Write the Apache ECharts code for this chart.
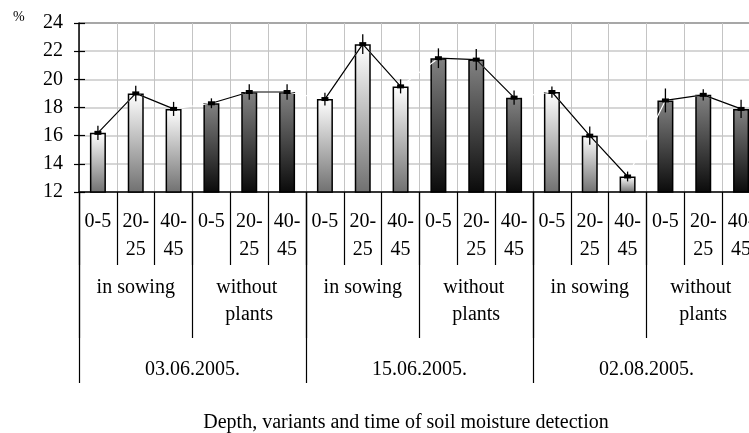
<!DOCTYPE html>
<html>
<head>
<meta charset="utf-8">
<script src="https://cdn.jsdelivr.net/npm/echarts@6/dist/echarts.min.js"></script>
<style>
  html, body { margin: 0; padding: 0; background: #ffffff; }
  #chart { width: 749px; height: 433px; }
</style>
</head>
<body>
<div id="chart"></div>
<script>
// Soil moisture (%) by depth, variant and sampling date
const dates = ['03.06.2005.', '15.06.2005.', '02.08.2005.'];
const variants = ['in sowing', 'without plants'];
const depths = ['0-5', '20-25', '40-45'];
const moisture = [16.2, 19.0, 17.9, 18.3, 19.1, 19.1, 18.6, 22.5, 19.5, 21.5, 21.4, 18.7, 19.1, 16.0, 13.1, 18.5, 18.9, 17.9];
const moistureErr = [0.5, 0.55, 0.5, 0.35, 0.55, 0.55, 0.45, 0.7, 0.5, 0.7, 0.75, 0.5, 0.4, 0.65, 0.35, 0.85, 0.4, 0.65];
const yTicks = { min: 12, max: 24, step: 2 };

const FONT = 'Liberation Serif';
const FS = 20;

// Flattened category levels
const depthCats = [], variantCats = [], dateCats = [];
dates.forEach(d => {
  dateCats.push(d);
  variants.forEach(v => {
    variantCats.push(v);
    depths.forEach(dp => depthCats.push(dp));
  });
});
const idx = depthCats.map((_, i) => String(i));

// Gradient fills: light bars for sown plots, dark bars for bare plots
const gradLight = new echarts.graphic.LinearGradient(0, 0, 0, 1, [
  { offset: 0, color: '#ffffff' }, { offset: 1, color: '#707070' }
]);
const gradDark = new echarts.graphic.LinearGradient(0, 0, 0, 1, [
  { offset: 0, color: '#828282' }, { offset: 1, color: '#0a0a0a' }
]);
const barData = moisture.map((v, i) => ({
  value: v,
  itemStyle: { color: Math.floor(i / 3) % 2 === 0 ? gradLight : gradDark }
}));

// Connector lines: black inside each group of three, white between groups
const groupLines = [];
for (let g = 0; g < moisture.length / 3; g++) {
  groupLines.push({
    type: 'line',
    data: moisture.map((v, i) => (Math.floor(i / 3) === g ? v : null)),
    symbol: 'rect',
    symbolSize: [7, 4],
    itemStyle: { color: '#000' },
    lineStyle: { color: '#000', width: 1.2 },
    z: 4,
    silent: true,
    animation: false
  });
}

const errData = moisture.map((v, i) => [i, v - moistureErr[i], v + moistureErr[i]]);

const chart = echarts.init(document.getElementById('chart'), null, { renderer: 'canvas' });
chart.setOption({
  backgroundColor: '#ffffff',
  animation: false,
  grid: { left: 79, top: 23, right: -11, height: 169, containLabel: false, outerBoundsMode: 'none' },
  graphic: [
    { type: 'text', left: 13, top: 10, style: { text: '%', font: '14px ' + FONT, fill: '#000' } },
    {
      type: 'text', x: 406, y: 423,
      style: {
        text: 'Depth, variants and time of soil moisture detection',
        font: FS + 'px ' + FONT, fill: '#000', align: 'center', verticalAlign: 'middle'
      }
    }
  ],
  xAxis: [
    {
      type: 'category', position: 'bottom', data: idx, boundaryGap: true,
      axisLine: { show: true, lineStyle: { color: '#000', width: 1.5 } },
      axisTick: { show: true, interval: 0, length: 73, lineStyle: { color: '#000', width: 1.2 } },
      axisLabel: {
        interval: 0, margin: 16, fontFamily: FONT, fontSize: FS, color: '#000', lineHeight: 28,
        formatter: (v, i) => {
          const s = depthCats[i];
          return s.length > 3 ? s.replace('-', '-\n') : s;
        }
      },
      splitLine: { show: true, interval: 0, lineStyle: { color: '#c4c4c4', width: 1 } }
    },
    {
      type: 'category', position: 'bottom', data: variantCats.map((_, i) => String(i)), boundaryGap: true,
      axisLine: { show: false },
      axisTick: { show: true, interval: 0, length: 146, lineStyle: { color: '#000', width: 1.2 } },
      axisLabel: {
        interval: 0, margin: 82, fontFamily: FONT, fontSize: FS, color: '#000', lineHeight: 27,
        width: 94, overflow: 'break',
        formatter: (v, i) => variantCats[i]
      },
      splitLine: { show: false }
    },
    {
      type: 'category', position: 'bottom', data: dateCats.map((_, i) => String(i)), boundaryGap: true,
      axisLine: { show: false },
      axisTick: { show: true, interval: 0, length: 191, lineStyle: { color: '#000', width: 1.2 } },
      axisLabel: {
        interval: 0, margin: 164, fontFamily: FONT, fontSize: FS, color: '#000', lineHeight: 28,
        formatter: (v, i) => dateCats[i]
      },
      splitLine: { show: false }
    }
  ],
  yAxis: [
    {
      type: 'value', position: 'left', min: yTicks.min, max: yTicks.max, interval: yTicks.step,
      axisLine: { show: true, lineStyle: { color: '#000', width: 1.5 } },
      axisTick: { show: true, length: 5, lineStyle: { color: '#000', width: 1.2 } },
      axisLabel: { margin: 16, fontFamily: FONT, fontSize: FS, color: '#000' },
      splitLine: {
        show: true,
        lineStyle: { color: ['#c8c8c8', '#c8c8c8', '#c8c8c8', '#c8c8c8', '#c8c8c8', '#c8c8c8', '#8a8a8a'], width: 1.5 }
      }
    },
    {
      type: 'value', position: 'left', offset: 0, min: yTicks.min, max: yTicks.max, interval: yTicks.step,
      axisLine: { show: false },
      axisTick: { show: true, inside: true, length: 6, lineStyle: { color: '#000', width: 1.2 } },
      axisLabel: { show: false },
      splitLine: { show: false }
    }
  ],
  series: [
    {
      type: 'bar', data: barData, barWidth: 16,
      itemStyle: { borderColor: '#000', borderWidth: 1.5 },
      z: 2, silent: true
    },
    {
      type: 'line', data: moisture, symbol: 'none',
      lineStyle: { color: '#ffffff', width: 1.2 },
      z: 3, silent: true
    },
    ...groupLines,
    {
      type: 'custom', data: errData, z: 5, silent: true,
      renderItem: (params, api) => {
        const x = api.value(0);
        const lo = api.coord([x, api.value(1)]);
        const hi = api.coord([x, api.value(2)]);
        return {
          type: 'line',
          shape: { x1: lo[0], y1: lo[1], x2: hi[0], y2: hi[1] },
          style: { stroke: '#000', lineWidth: 1.3 }
        };
      },
      encode: { x: 0, y: [1, 2] }
    }
  ]
});
</script>
</body>
</html>
